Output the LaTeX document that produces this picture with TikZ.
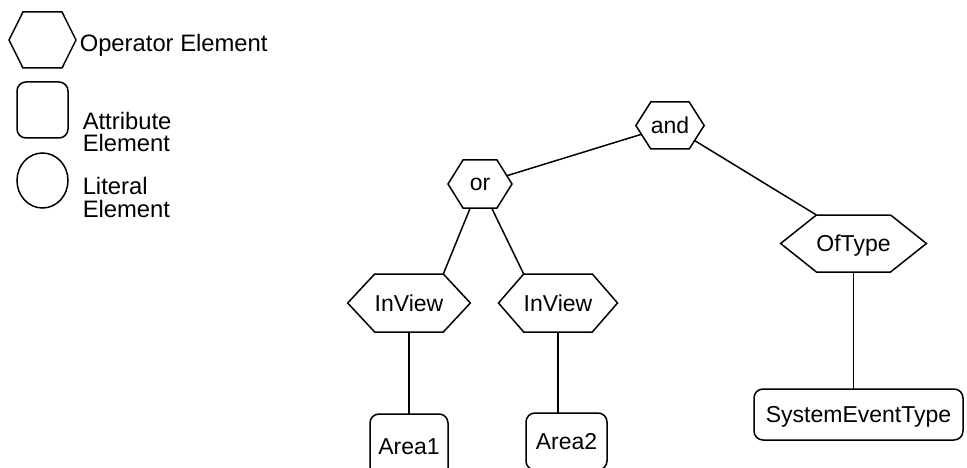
\documentclass[tikz,border=0pt]{standalone}
\usepackage{fontspec}
\setmainfont{Liberation Sans}
\usetikzlibrary{shapes.symbols,shapes.geometric}

\begin{document}
\begin{tikzpicture}[x=1pt,y=-1pt,line width=1.5pt,
  font=\fontsize{23}{22}\selectfont,
  opnode/.style={shape=signal,signal to=east and west,draw,inner sep=0pt,outer sep=0pt,text depth=0pt},
  attrnode/.style={rectangle,rounded corners=9pt,draw,inner sep=0pt,outer sep=0pt,text depth=0pt},
  litnode/.style={ellipse,draw,inner sep=0pt,outer sep=0pt},
  legtext/.style={anchor=base west,align=left,inner sep=0pt,font=\fontsize{23.8}{22}\selectfont}]
  \clip (0,0) rectangle (967,468);
  % legend
  \node[opnode,minimum width=67pt,minimum height=56pt,signal pointer angle=127] (legop) at (42.5,40) {};
  \node[legtext] (legoptext) at (79,52) {Operator Element};
  \node[attrnode,minimum width=51pt,minimum height=56pt] (legattr) at (42.5,110) {};
  \node[legtext] (legattrtext) at (82,152) {Attribute\\Element};
  \node[litnode,minimum width=51pt,minimum height=55pt] (leglit) at (42.5,180.5) {};
  \node[legtext] (leglittext) at (82,217) {Literal\\Element};
  % operators
  \node[opnode,minimum width=64pt,minimum height=47pt,signal pointer angle=115] (and) at (670,125.5) {and};
  \node[opnode,minimum width=64pt,minimum height=48pt,signal pointer angle=116] (or) at (480,184) {or};
  \node[opnode,minimum width=102pt,minimum height=58pt,signal pointer angle=94] (inview1) at (409,303) {InView};
  \node[opnode,minimum width=103pt,minimum height=58pt,signal pointer angle=98] (inview2) at (558,303) {InView};
  \node[opnode,minimum width=142pt,minimum height=57pt,signal pointer angle=77] (oftype) at (853.5,243.5) {OfType};
  % attributes
  \node[attrnode,minimum width=78pt,minimum height=65pt] (area1) at (409,446.5) {Area1};
  \node[attrnode,minimum width=81pt,minimum height=57pt] (area2) at (566.5,441.5) {Area2};
  \node[attrnode,minimum width=209pt,minimum height=51pt] (sysevt) at (858.5,414.5) {SystemEventType};
  % connectors
  \draw (and) -- (or);
  \draw (and) -- (oftype.north west);
  \draw (or) -- (inview1.north east);
  \draw (or) -- (inview2.north west);
  \draw (inview1) -- (area1);
  \draw (inview2.south) -- (inview2.south |- area2.north);
  \draw (oftype.south) -- (oftype.south |- sysevt.north);
\end{tikzpicture}
\end{document}
